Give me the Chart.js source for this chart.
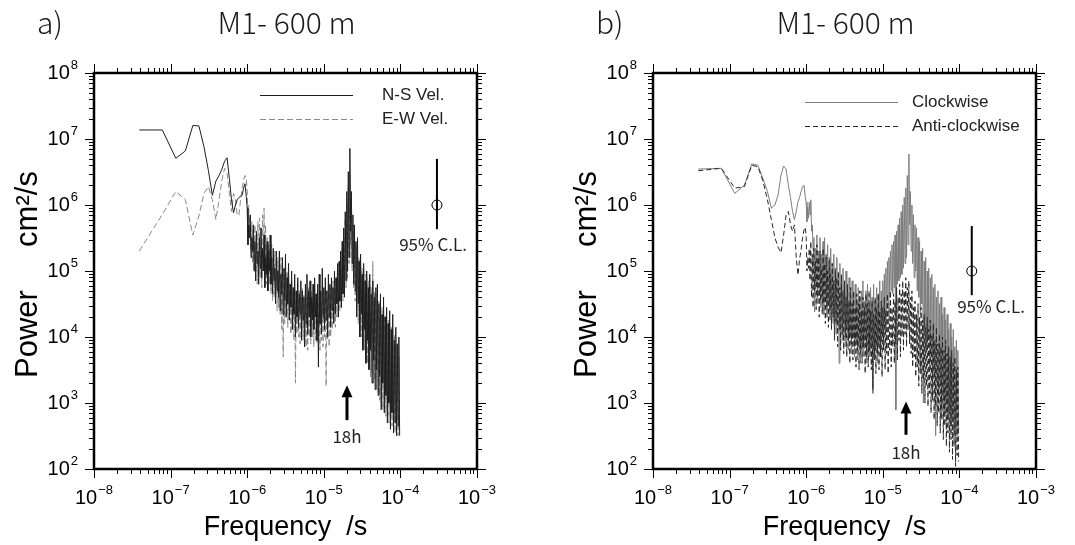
<!DOCTYPE html>
<html>
<head>
<meta charset="utf-8">
<script src="https://cdn.jsdelivr.net/npm/chart.js@4.4.1/dist/chart.umd.min.js"></script>
<style>
  html, body { margin: 0; padding: 0; background: #fff; }
  #wrap { position: relative; width: 1075px; height: 545px; }
  canvas { position: absolute; top: 0; }
</style>
</head>
<body>
<div id="wrap">
  <canvas id="ca" width="540" height="545" style="left:0"></canvas>
  <canvas id="cb" width="535" height="545" style="left:540px"></canvas>
</div>
<script>
// frequency (1/s), shared by all four spectra
const freq = [
  3.9e-8, 7.8e-8, 1.17e-7, 1.56e-7, 1.95e-7, 2.34e-7, 2.73e-7, 3.12e-7, 3.51e-7, 3.9e-7,
  4.29e-7, 4.68e-7, 5.07e-7, 5.46e-7, 5.85e-7, 6.24e-7, 6.63e-7, 7.02e-7, 7.41e-7, 7.8e-7,
  8.19e-7, 8.58e-7, 8.97e-7, 9.36e-7, 9.75e-7,
  1.000e-6, 1.023e-6, 1.047e-6, 1.072e-6, 1.096e-6, 1.122e-6, 1.148e-6, 1.175e-6, 1.202e-6, 1.230e-6,
  1.259e-6, 1.288e-6, 1.318e-6, 1.349e-6, 1.380e-6, 1.413e-6, 1.445e-6, 1.479e-6, 1.514e-6, 1.549e-6,
  1.585e-6, 1.622e-6, 1.660e-6, 1.698e-6, 1.738e-6, 1.778e-6, 1.820e-6, 1.862e-6, 1.905e-6, 1.950e-6,
  1.995e-6, 2.042e-6, 2.089e-6, 2.138e-6, 2.188e-6, 2.239e-6, 2.291e-6, 2.344e-6, 2.399e-6, 2.455e-6,
  2.512e-6, 2.570e-6, 2.630e-6, 2.692e-6, 2.754e-6, 2.818e-6, 2.884e-6, 2.951e-6, 3.020e-6, 3.090e-6,
  3.162e-6, 3.236e-6, 3.311e-6, 3.388e-6, 3.467e-6, 3.548e-6, 3.631e-6, 3.715e-6, 3.802e-6, 3.890e-6,
  3.981e-6, 4.074e-6, 4.169e-6, 4.266e-6, 4.365e-6, 4.467e-6, 4.571e-6, 4.677e-6, 4.786e-6, 4.898e-6,
  5.012e-6, 5.129e-6, 5.248e-6, 5.370e-6, 5.495e-6, 5.623e-6, 5.754e-6, 5.888e-6, 6.026e-6, 6.166e-6,
  6.310e-6, 6.457e-6, 6.607e-6, 6.761e-6, 6.918e-6, 7.079e-6, 7.244e-6, 7.413e-6, 7.586e-6, 7.762e-6,
  7.943e-6, 8.128e-6, 8.318e-6, 8.511e-6, 8.710e-6, 8.913e-6, 9.120e-6, 9.333e-6, 9.550e-6, 9.772e-6,
  1.000e-5, 1.023e-5, 1.047e-5, 1.072e-5, 1.096e-5, 1.122e-5, 1.148e-5, 1.175e-5, 1.202e-5, 1.230e-5,
  1.259e-5, 1.288e-5, 1.318e-5, 1.349e-5, 1.380e-5, 1.413e-5, 1.445e-5, 1.479e-5, 1.514e-5, 1.549e-5,
  1.585e-5, 1.622e-5, 1.660e-5, 1.698e-5, 1.738e-5, 1.778e-5, 1.820e-5, 1.862e-5, 1.905e-5, 1.950e-5,
  1.995e-5, 2.042e-5, 2.089e-5, 2.138e-5, 2.188e-5, 2.239e-5, 2.291e-5, 2.344e-5, 2.399e-5, 2.455e-5,
  2.512e-5, 2.570e-5, 2.630e-5, 2.692e-5, 2.754e-5, 2.818e-5, 2.884e-5, 2.951e-5, 3.020e-5, 3.090e-5,
  3.162e-5, 3.236e-5, 3.311e-5, 3.388e-5, 3.467e-5, 3.548e-5, 3.631e-5, 3.715e-5, 3.802e-5, 3.890e-5,
  3.981e-5, 4.074e-5, 4.169e-5, 4.266e-5, 4.365e-5, 4.467e-5, 4.571e-5, 4.677e-5, 4.786e-5, 4.898e-5,
  5.012e-5, 5.129e-5, 5.248e-5, 5.370e-5, 5.495e-5, 5.623e-5, 5.754e-5, 5.888e-5, 6.026e-5, 6.166e-5,
  6.310e-5, 6.457e-5, 6.607e-5, 6.761e-5, 6.918e-5, 7.079e-5, 7.244e-5, 7.413e-5, 7.586e-5, 7.762e-5,
  7.943e-5, 8.128e-5, 8.318e-5, 8.511e-5, 8.710e-5, 8.913e-5, 9.120e-5, 9.333e-5, 9.550e-5, 9.772e-5
];

// panel a : power (cm2/s)
const nsVel = [
  1.37e7, 1.37e7, 5.1e6, 6.6e6, 1.6e7, 1.58e7, 7.6e6, 3.3e6, 1.4e6, 2.3e6,
  2.8e6, 3.5e6, 4.6e6, 5.2e6, 2.5e6, 1.2e6, 7.6e5, 1.0e6, 1.2e6, 1.3e6,
  1.35e6, 1.4e6, 1.8e6, 2.1e6, 1.3e6,
  8.9e5, 2.5e5, 5.0e5, 3.2e5, 7.1e5, 1.6e5, 3.2e5, 2.0e5, 5.0e5, 1.0e5,
  2.8e5, 7.1e4, 4.0e5, 1.3e5, 2.0e5, 6.3e4, 3.2e5, 1.1e5, 4.5e5, 7.9e4,
  2.2e5, 1.0e5, 3.5e5, 5.6e4, 1.6e5, 8.9e4, 2.8e5, 5.0e4, 2.0e5, 1.0e5,
  3.5e5, 6.3e4, 1.6e5, 4.5e4, 2.2e5, 7.1e4, 1.1e5, 3.2e4, 2.0e5, 5.0e4,
  1.0e5, 4.0e4, 2.0e5, 2.5e4, 8.9e4, 4.5e4, 1.6e5, 2.2e4, 1.1e5, 3.5e4,
  1.8e5, 2.0e4, 7.9e4, 3.2e4, 1.3e5, 1.8e4, 6.3e4, 2.8e4, 1.0e5, 1.3e4,
  5.6e4, 2.2e4, 8.9e4, 1.0e4, 5.0e4, 2.0e4, 7.9e4, 1.4e4, 4.5e4, 2.2e4,
  7.1e4, 8.9e3, 5.0e4, 1.8e4, 4.0e4, 7.1e3, 6.3e4, 1.6e4, 8.9e4, 1.1e4,
  5.0e4, 2.0e4, 7.1e4, 1.0e4, 4.0e4, 1.8e4, 6.3e4, 1.3e4, 7.9e4, 2.0e4,
  4.5e4, 8.9e3, 6.3e4, 3.5e3, 8.9e4, 1.6e4, 5.0e4, 1.1e4, 1.1e5, 2.0e4,
  5.6e4, 1.3e4, 7.9e4, 1.8e4, 5.0e4, 1.0e4, 8.9e4, 2.0e4, 6.3e4, 1.4e4,
  7.9e4, 2.5e4, 5.6e4, 1.6e4, 1.0e5, 2.2e4, 7.9e4, 3.2e4, 1.3e5, 2.0e4,
  1.4e5, 3.5e4, 2.0e5, 2.8e4, 2.8e5, 4.5e4, 4.5e5, 4.0e4, 7.9e5, 7.1e4,
  1.6e6, 1.0e5, 3.2e6, 1.6e5, 7.2e6, 4.0e5, 1.6e6, 1.3e5, 7.1e5, 6.3e4,
  5.0e5, 5.0e4, 2.8e5, 2.0e4, 3.2e5, 3.2e4, 1.4e5, 1.0e4, 1.8e5, 2.2e4,
  8.9e4, 6.3e3, 1.3e5, 1.3e4, 7.1e4, 4.0e3, 1.0e5, 8.9e3, 5.6e4, 3.2e3,
  8.9e4, 6.3e3, 4.5e4, 2.0e3, 7.1e4, 4.5e3, 4.0e4, 1.6e3, 5.6e4, 3.2e3,
  6.3e4, 1.3e3, 3.2e4, 2.5e3, 4.5e4, 7.9e2, 2.2e4, 2.0e3, 4.0e4, 7.1e2,
  2.0e4, 1.3e3, 2.8e4, 5.0e2, 1.6e4, 1.0e3, 2.5e4, 4.0e2, 1.3e4, 7.1e2,
  2.2e4, 3.5e2, 8.9e3, 5.0e2, 1.4e4, 3.2e2, 7.9e3, 4.5e2, 1.0e4, 3.2e2
];
const ewVel = [
  2.0e5, 7.2e5, 1.6e6, 1.2e6, 3.5e5, 6.8e5, 1.5e6, 1.9e6, 1.2e6, 6.0e5,
  1.2e6, 2.4e6, 3.6e6, 3.0e6, 1.5e6, 8.0e5, 1.5e6, 1.2e6, 7.0e5, 7.0e5,
  1.2e6, 1.8e6, 2.4e6, 2.8e6, 2.5e6,
  1.6e6, 4.0e5, 1.0e6, 3.2e5, 7.1e5, 2.0e5, 5.6e5, 1.3e5, 4.0e5, 1.0e5,
  5.0e5, 7.1e4, 3.2e5, 6.3e4, 5.6e5, 1.0e5, 6.3e5, 7.9e4, 4.5e5, 5.6e4,
  7.1e5, 1.0e5, 8.9e5, 7.1e4, 5.0e5, 6.3e4, 3.2e5, 5.0e4, 2.5e5, 6.3e4,
  2.2e5, 4.5e4, 2.5e5, 3.5e4, 1.6e5, 4.0e4, 2.0e5, 3.2e4, 1.4e5, 2.5e4,
  1.6e5, 2.8e4, 1.3e5, 2.2e4, 1.6e5, 1.3e4, 1.0e5, 5.0e3, 1.1e5, 1.6e4,
  8.9e4, 2.0e4, 1.0e5, 1.4e4, 7.9e4, 1.8e4, 6.3e4, 1.1e4, 7.1e4, 1.3e4,
  5.0e4, 8.9e3, 5.6e4, 2.0e3, 4.5e4, 1.1e4, 6.3e4, 1.0e4, 5.0e4, 7.9e3,
  4.0e4, 1.1e4, 5.6e4, 8.9e3, 4.5e4, 1.0e4, 5.0e4, 7.1e3, 4.0e4, 6.3e3,
  5.6e4, 1.0e4, 4.5e4, 7.9e3, 5.0e4, 1.0e4, 4.0e4, 7.1e3, 6.3e4, 8.9e3,
  4.5e4, 7.9e3, 5.0e4, 1.0e4, 4.0e4, 6.3e3, 5.0e4, 8.9e3, 4.5e4, 7.1e3,
  5.6e4, 1.0e4, 4.0e4, 1.8e3, 5.0e4, 8.9e3, 4.5e4, 7.1e3, 5.6e4, 1.0e4,
  6.3e4, 1.3e4, 7.1e4, 1.6e4, 8.9e4, 1.4e4, 7.9e4, 2.0e4, 1.1e5, 2.2e4,
  1.3e5, 2.5e4, 1.6e5, 2.8e4, 2.2e5, 3.5e4, 3.5e5, 4.5e4, 6.3e5, 5.6e4,
  1.1e6, 7.9e4, 2.0e6, 1.3e5, 3.2e6, 2.5e5, 1.1e6, 1.0e5, 5.0e5, 5.6e4,
  3.5e5, 3.5e4, 2.5e5, 2.5e4, 2.0e5, 1.6e4, 1.6e5, 1.3e4, 1.3e5, 1.0e4,
  1.1e5, 7.1e3, 1.0e5, 6.3e3, 8.9e4, 5.0e3, 7.9e4, 4.0e3, 7.1e4, 3.5e3,
  6.3e4, 2.5e3, 5.6e4, 2.8e3, 1.4e5, 2.0e3, 5.0e4, 2.2e3, 4.5e4, 1.6e3,
  4.0e4, 1.4e3, 3.5e4, 1.1e3, 3.2e4, 1.0e3, 2.8e4, 7.9e2, 2.5e4, 8.9e2,
  2.2e4, 6.3e2, 2.0e4, 7.1e2, 1.8e4, 5.0e2, 1.6e4, 5.6e2, 1.4e4, 4.5e2,
  1.3e4, 4.0e2, 1.1e4, 3.5e2, 7.9e3, 4.0e2, 6.3e3, 3.2e2, 5.0e3, 4.0e2
];

// panel b : power (cm2/s)
const clockwise = [
  3.5e6, 3.6e6, 1.5e6, 2.0e6, 4.2e6, 4.0e6, 2.5e6, 1.6e6, 9.0e5, 1.0e6,
  1.4e6, 2.8e6, 3.9e6, 3.5e6, 2.0e6, 1.3e6, 8.0e5, 6.0e5, 8.0e5, 1.1e6,
  1.3e6, 1.6e6, 1.9e6, 2.0e6, 1.3e6,
  1.1e6, 5.6e5, 9.3e5, 6.3e5, 1.1e6, 7.1e5, 1.2e6, 4.0e5, 5.0e5, 2.0e5,
  3.2e5, 2.4e4, 2.2e5, 6.3e4, 3.5e5, 3.2e4, 2.0e5, 5.0e4, 3.2e5, 2.8e4,
  1.8e5, 4.0e4, 2.8e5, 2.2e4, 3.2e5, 3.5e4, 1.6e5, 2.0e4, 2.5e5, 3.2e4,
  1.4e5, 1.8e4, 2.2e5, 2.8e4, 1.3e5, 1.6e4, 1.8e5, 2.0e4, 1.0e5, 1.1e4,
  1.6e5, 1.8e4, 8.9e4, 4.0e3, 1.3e5, 1.4e4, 7.1e4, 8.9e3, 1.1e5, 1.6e4,
  6.3e4, 7.1e3, 1.0e5, 1.3e4, 5.0e4, 6.3e3, 7.9e4, 1.1e4, 5.6e4, 5.6e3,
  7.1e4, 1.0e4, 4.0e4, 5.0e3, 6.3e4, 8.9e3, 3.5e4, 4.5e3, 5.6e4, 7.9e3,
  4.0e4, 4.0e3, 5.0e4, 7.1e3, 7.1e4, 5.0e3, 3.5e4, 8.9e3, 5.0e4, 4.0e3,
  6.3e4, 6.3e3, 3.2e4, 5.0e3, 5.6e4, 7.9e3, 4.0e4, 1.4e3, 6.3e4, 5.6e3,
  3.5e4, 7.1e3, 5.6e4, 4.0e3, 4.5e4, 7.9e3, 7.1e4, 5.0e3, 5.0e4, 1.0e4,
  7.1e4, 8.9e3, 8.9e4, 1.3e4, 1.1e5, 2.0e4, 1.4e5, 3.2e4, 1.6e5, 4.0e4,
  2.0e5, 5.0e4, 2.5e5, 4.5e4, 2.8e5, 5.6e4, 3.5e5, 7.9e2, 4.0e5, 6.3e4,
  5.0e5, 7.1e4, 6.3e5, 7.9e4, 7.9e5, 8.9e4, 1.0e6, 1.1e5, 1.3e6, 1.3e5,
  1.8e6, 1.6e5, 2.8e6, 2.5e5, 5.9e6, 5.0e5, 1.6e6, 2.0e5, 1.0e6, 1.3e5,
  7.1e5, 7.9e4, 5.0e5, 1.0e5, 4.5e5, 5.0e4, 3.2e5, 4.0e4, 2.8e5, 2.2e4,
  2.0e5, 3.2e4, 2.2e5, 1.0e3, 1.4e5, 1.3e4, 1.6e5, 6.3e3, 1.0e5, 8.9e3,
  1.1e5, 3.5e3, 7.9e4, 5.0e3, 8.9e4, 2.0e3, 5.6e4, 2.8e3, 6.3e4, 3.2e2,
  4.0e4, 2.0e3, 5.0e4, 1.3e3, 3.2e4, 1.8e3, 4.0e4, 8.9e2, 2.2e4, 1.3e3,
  2.8e4, 7.1e2, 1.8e4, 1.0e3, 2.2e4, 5.6e2, 1.3e4, 7.9e2, 1.6e4, 4.5e2,
  1.0e4, 6.3e2, 1.3e4, 3.5e2, 7.1e3, 5.0e2, 8.9e3, 3.2e2, 6.3e3, 4.0e2
];
const antiClockwise = [
  3.3e6, 3.6e6, 1.8e6, 1.9e6, 4.0e6, 3.8e6, 2.3e6, 1.2e6, 6.0e5, 3.2e5,
  2.3e5, 1.9e5, 3.5e5, 7.0e5, 8.0e5, 5.0e5, 4.0e5, 5.0e5, 1.6e5, 8.7e4,
  1.5e5, 2.1e5, 3.2e5, 4.2e5, 4.6e5,
  3.2e5, 1.0e5, 1.6e5, 1.1e5, 2.2e5, 7.2e4, 2.8e5, 4.0e4, 1.8e5, 2.8e4,
  2.2e5, 5.0e4, 1.4e5, 2.6e4, 2.5e5, 4.0e4, 1.6e5, 2.0e4, 2.0e5, 3.5e4,
  1.1e5, 2.2e4, 2.2e5, 3.2e4, 1.3e5, 1.6e4, 1.8e5, 2.8e4, 1.0e5, 1.4e4,
  1.6e5, 2.5e4, 8.9e4, 1.3e4, 1.3e5, 2.0e4, 7.1e4, 8.9e3, 1.1e5, 1.6e4,
  7.9e4, 7.1e3, 1.0e5, 1.3e4, 5.6e4, 6.3e3, 8.9e4, 1.1e4, 5.0e4, 5.6e3,
  7.1e4, 1.0e4, 4.0e4, 5.0e3, 6.3e4, 8.9e3, 3.5e4, 4.0e3, 5.6e4, 7.9e3,
  3.2e4, 4.5e3, 5.0e4, 7.1e3, 2.8e4, 3.5e3, 4.5e4, 6.3e3, 3.2e4, 3.2e3,
  5.0e4, 5.6e3, 2.5e4, 4.0e3, 4.0e4, 7.1e3, 2.8e4, 2.8e3, 4.5e4, 5.0e3,
  3.2e4, 3.5e3, 5.0e4, 6.3e3, 2.5e4, 3.2e3, 3.5e4, 1.6e3, 2.2e4, 4.5e3,
  4.0e4, 2.8e3, 2.8e4, 5.6e3, 4.5e4, 3.2e3, 2.5e4, 5.0e3, 3.5e4, 2.5e3,
  2.8e4, 6.3e3, 4.0e4, 3.2e3, 2.5e4, 5.6e3, 4.5e4, 2.8e3, 3.2e4, 6.3e3,
  5.0e4, 3.5e3, 2.8e4, 7.1e3, 4.5e4, 4.0e3, 3.5e4, 7.9e3, 5.6e4, 4.5e3,
  4.0e4, 8.9e3, 6.3e4, 5.0e3, 4.5e4, 1.0e4, 7.1e4, 6.3e3, 5.0e4, 1.1e4,
  7.9e4, 7.1e3, 5.6e4, 1.3e4, 7.1e4, 7.9e3, 4.0e4, 5.6e3, 5.0e4, 3.5e3,
  2.8e4, 5.0e3, 3.5e4, 2.5e3, 2.2e4, 3.5e3, 3.2e4, 1.8e3, 2.0e4, 2.8e3,
  2.8e4, 1.4e3, 1.8e4, 2.2e3, 2.2e4, 1.0e3, 1.4e4, 1.8e3, 2.0e4, 8.9e2,
  1.3e4, 1.4e3, 1.8e4, 7.1e2, 1.1e4, 1.1e3, 1.6e4, 5.6e2, 8.9e3, 8.9e2,
  1.4e4, 4.5e2, 7.9e3, 7.1e2, 1.1e4, 3.5e2, 7.1e3, 5.6e2, 1.0e4, 2.8e2,
  6.3e3, 4.5e2, 8.9e3, 2.2e2, 5.6e3, 3.5e2, 7.1e3, 1.8e2, 5.0e3, 2.8e2,
  6.3e3, 1.4e2, 4.0e3, 2.2e2, 5.0e3, 1.1e2, 3.2e3, 1.6e2, 3.5e3, 1.3e2
];

// axis decades (exponents)
const xDecades = [-8, -7, -6, -5, -4, -3];
const yDecades = [2, 3, 4, 5, 6, 7, 8];

// 95% confidence bars: [freq, lower, centre, upper]
const confA = [3.0e-4, 4.3e5, 1.0e6, 5.0e6];
const confB = [1.45e-4, 4.3e4, 1.0e5, 4.8e5];

const pts = ys => freq.map((f, i) => ({ x: f, y: ys[i] }));

function powLabel(ctx, x, y, e, align) {
  const sup = e < 0 ? '\u2212' + (-e) : String(e);
  ctx.font = '20px "Liberation Sans"';
  const wb = ctx.measureText('10').width;
  ctx.font = '13px "Liberation Sans"';
  const ws = ctx.measureText(sup).width;
  const x0 = align === 'center' ? x - (wb + ws + 1) / 2 : x - wb - ws - 1;
  ctx.textAlign = 'left';
  ctx.textBaseline = 'middle';
  ctx.font = '20px "Liberation Sans"';
  ctx.fillText('10', x0, y);
  ctx.font = '13px "Liberation Sans"';
  ctx.fillText(sup, x0 + wb + 1, y - 8);
}

function decor(p) {
  return {
    id: 'decor',
    afterDraw(chart) {
      const ctx = chart.ctx, a = chart.chartArea;
      const sx = chart.scales.x, sy = chart.scales.y;
      ctx.save();
      ctx.strokeStyle = '#000';
      ctx.fillStyle = '#000';

      // ticks, outside the frame
      ctx.lineWidth = 1;
      ctx.beginPath();
      xDecades.forEach((e, j) => {
        const n = j === xDecades.length - 1 ? 1 : 9;
        for (let m = 1; m <= n; m++) {
          const px = Math.round(sx.getPixelForValue(m * Math.pow(10, e))) + 0.5;
          const len = m === 1 ? 9 : 5;
          ctx.moveTo(px, a.bottom); ctx.lineTo(px, a.bottom + len);
          ctx.moveTo(px, a.top); ctx.lineTo(px, a.top - len);
        }
      });
      yDecades.forEach((e, j) => {
        const n = j === yDecades.length - 1 ? 1 : 9;
        for (let m = 1; m <= n; m++) {
          const py = Math.round(sy.getPixelForValue(m * Math.pow(10, e))) + 0.5;
          const len = m === 1 ? 9 : 5;
          ctx.moveTo(a.left, py); ctx.lineTo(a.left - len, py);
          ctx.moveTo(a.right, py); ctx.lineTo(a.right + len, py);
        }
      });
      ctx.stroke();

      ctx.lineWidth = 2.5;
      ctx.strokeRect(a.left, a.top, a.right - a.left, a.bottom - a.top);

      // tick labels
      xDecades.forEach(e => powLabel(ctx, sx.getPixelForValue(Math.pow(10, e)), a.bottom + 29, e, 'center'));
      yDecades.forEach(e => powLabel(ctx, a.left - 16, sy.getPixelForValue(Math.pow(10, e)), e, 'right'));

      // titles
      ctx.textBaseline = 'alphabetic';
      ctx.font = '300 30px "Noto Sans CJK JP"';
      ctx.fillStyle = '#1a1a1a';
      ctx.textAlign = 'left';
      ctx.fillText(p.tag, a.left - 57, 34);
      ctx.textAlign = 'center';
      ctx.fillText('M1- 600 m', (a.left + a.right) / 2 + 1, 34);

      // axis titles
      ctx.fillStyle = '#000';
      ctx.font = '27px "Liberation Sans"';
      ctx.fillText('Frequency  /s', (a.left + a.right) / 2, 535);
      ctx.save();
      ctx.translate(a.left - 66, a.top);
      ctx.rotate(-Math.PI / 2);
      ctx.textBaseline = 'middle';
      ctx.font = '31px "Liberation Sans"';
      ctx.fillText('Power', -261, 0);
      ctx.fillText('cm\u00b2/s', -136, 0);
      ctx.restore();

      // legend
      p.legend.forEach((l, i) => {
        const y = a.top + p.legY + i * 24 + 0.5;
        ctx.beginPath();
        ctx.strokeStyle = l.color;
        ctx.lineWidth = 1;
        ctx.setLineDash(l.dash);
        ctx.moveTo(a.left + p.legX0, y);
        ctx.lineTo(a.left + p.legX1, y);
        ctx.stroke();
        ctx.setLineDash([]);
        ctx.fillStyle = '#222';
        ctx.font = '17px "Liberation Sans"';
        ctx.textAlign = 'left';
        ctx.textBaseline = 'middle';
        ctx.fillText(l.text, a.left + p.legTx, y);
      });

      // inertial arrow
      const ax = Math.round(sx.getPixelForValue(p.arrow[0]));
      const aTop = sy.getPixelForValue(p.arrow[1]);
      const aBot = sy.getPixelForValue(p.arrow[2]);
      ctx.fillStyle = '#000';
      ctx.strokeStyle = '#000';
      ctx.lineWidth = 3;
      ctx.beginPath();
      ctx.moveTo(ax, aTop + 8);
      ctx.lineTo(ax, aBot);
      ctx.stroke();
      ctx.beginPath();
      ctx.moveTo(ax, aTop);
      ctx.lineTo(ax - 5.5, aTop + 12);
      ctx.lineTo(ax + 5.5, aTop + 12);
      ctx.closePath();
      ctx.fill();
      ctx.fillStyle = '#222';
      ctx.font = '17px "Noto Sans CJK JP"';
      ctx.textAlign = 'center';
      ctx.textBaseline = 'middle';
      ctx.fillText('18h', ax, sy.getPixelForValue(p.arrow[3]));
      ctx.fillText('95% C.L.', sx.getPixelForValue(p.clText[0]), sy.getPixelForValue(p.clText[1]));
      ctx.restore();
    }
  };
}

function makeChart(id, pad, series, conf, p) {
  const sets = [
    { data: [{ x: conf[0], y: conf[1] }, { x: conf[0], y: conf[3] }], showLine: true,
      borderColor: '#000', borderWidth: 2, pointRadius: 0 },
    { data: [{ x: conf[0], y: conf[2] }], showLine: false, pointRadius: 5,
      pointBackgroundColor: '#fff', pointBorderColor: '#000', pointBorderWidth: 1 }
  ];
  series.forEach(s => sets.push({
    data: pts(s.values), showLine: true, borderColor: s.color, borderWidth: 1,
    borderDash: s.dash, pointRadius: 0, tension: 0
  }));
  return new Chart(document.getElementById(id), {
    type: 'scatter',
    data: { datasets: sets },
    options: {
      responsive: false,
      animation: false,
      devicePixelRatio: 1,
      events: [],
      layout: { padding: pad },
      plugins: { legend: { display: false }, tooltip: { enabled: false } },
      scales: {
        x: { type: 'logarithmic', min: 1e-8, max: 1e-3, display: false },
        y: { type: 'logarithmic', min: 1e2, max: 1e8, display: false }
      }
    },
    plugins: [decor(p)]
  });
}

makeChart('ca', { left: 94, right: 63, top: 73, bottom: 76 },
  [
    { values: nsVel, color: '#1e1e1e', dash: [] },
    { values: ewVel, color: '#8a8a8a', dash: [6, 3] }
  ],
  confA,
  {
    tag: 'a)',
    legend: [
      { text: 'N-S Vel.', color: '#1e1e1e', dash: [] },
      { text: 'E-W Vel.', color: '#8a8a8a', dash: [6, 3] }
    ],
    legX0: 166, legX1: 259, legY: 22, legTx: 288,
    arrow: [2.0e-5, 1.86e3, 5.5e2, 3.05e2],
    clText: [2.67e-4, 2.5e5]
  });

makeChart('cb', { left: 113, right: 39, top: 73, bottom: 76 },
  [
    { values: antiClockwise, color: '#262626', dash: [5, 3] },
    { values: clockwise, color: '#7d7d7d', dash: [] }
  ],
  confB,
  {
    tag: 'b)',
    legend: [
      { text: 'Clockwise', color: '#7d7d7d', dash: [] },
      { text: 'Anti-clockwise', color: '#262626', dash: [5, 3] }
    ],
    legX0: 152, legX1: 245, legY: 29, legTx: 259,
    arrow: [2.0e-5, 1.05e3, 3.3e2, 1.78e2],
    clText: [2.59e-4, 2.85e4]
  });
</script>
</body>
</html>
